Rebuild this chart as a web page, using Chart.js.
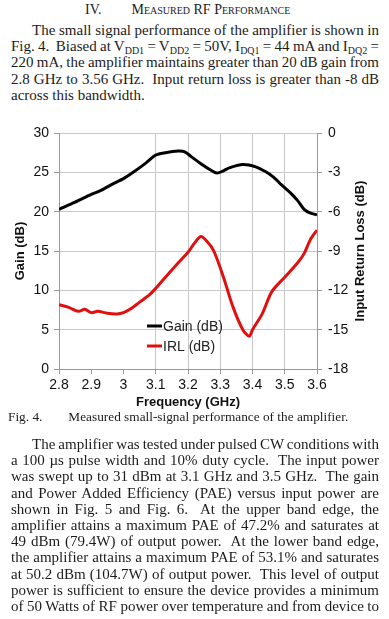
<!DOCTYPE html>
<html>
<head>
<meta charset="utf-8">
<script src="https://cdn.jsdelivr.net/npm/chart.js@4.4.1/dist/chart.umd.min.js"></script>
<style>
body { margin:0; width:389px; height:619px; background:#fff; overflow:hidden;
       font-family:'Liberation Serif','Times New Roman',serif; color:#1c1c1c; }
.blk { position:absolute; left:11px; width:368px; font-size:15px; line-height:16.2px; }
.ln { height:16.2px; white-space:nowrap; }
.ind { padding-left:21px; }
sub { font-size:10px; vertical-align:-3px; line-height:0; }
#title { position:absolute; top:2px; left:85px; font-size:14px; line-height:16px; white-space:nowrap; }
#title span { font-variant:small-caps; margin-left:30px; }
#cap { position:absolute; top:409px; left:8px; font-size:13.3px; line-height:16px; white-space:nowrap; }
#cap span { margin-left:26px; }
#wrap { position:absolute; left:0; top:118px; width:389px; height:296px; }
</style>
</head>
<body>
<div id="title">IV.<span>Measured RF Performance</span></div>
<div class="blk" style="top:22px">
  <div class="ln ind">The small signal performance of the amplifier is shown in</div>
  <div class="ln">Fig. 4.&nbsp; Biased at V<sub>DD1</sub> = V<sub>DD2</sub> = 50V, I<sub>DQ1</sub> = 44 mA and I<sub>DQ2</sub> =</div>
  <div class="ln">220 mA, the amplifier maintains greater than 20 dB gain from</div>
  <div class="ln">2.8 GHz to 3.56 GHz.&nbsp; Input return loss is greater than -8 dB</div>
  <div class="ln last">across this bandwidth.</div>
</div>
<div id="wrap"><canvas id="c" width="389" height="296"></canvas></div>
<div id="cap">Fig. 4.<span>Measured small-signal performance of the amplifier.</span></div>
<div class="blk" style="top:436px">
  <div class="ln ind">The amplifier was tested under pulsed CW conditions with</div>
  <div class="ln">a 100 µs pulse width and 10% duty cycle.&nbsp; The input power</div>
  <div class="ln">was swept up to 31 dBm at 3.1 GHz and 3.5 GHz.&nbsp; The gain</div>
  <div class="ln">and Power Added Efficiency (PAE) versus input power are</div>
  <div class="ln">shown in Fig. 5 and Fig. 6.&nbsp; At the upper band edge, the</div>
  <div class="ln">amplifier attains a maximum PAE of 47.2% and saturates at</div>
  <div class="ln">49 dBm (79.4W) of output power.&nbsp; At the lower band edge,</div>
  <div class="ln">the amplifier attains a maximum PAE of 53.1% and saturates</div>
  <div class="ln">at 50.2 dBm (104.7W) of output power.&nbsp; This level of output</div>
  <div class="ln">power is sufficient to ensure the device provides a minimum</div>
  <div class="ln">of 50 Watts of RF power over temperature and from device to</div>
</div>
<script>
// justify each printed line to the column width by hand
document.querySelectorAll('.ln').forEach(el => {
  if (el.classList.contains('last')) return;
  el.innerHTML = '<span>' + el.innerHTML + '</span>';
  const span = el.firstChild;
  const avail = el.clientWidth - parseFloat(getComputedStyle(el).paddingLeft);
  const gaps = (el.textContent.match(/[ \u00a0]/g) || []).length;
  el.style.wordSpacing = ((avail - span.getBoundingClientRect().width) / gaps) + 'px';
});

// small-signal data
const gainFreq = [2.80, 2.85, 2.90, 2.93, 2.97, 3.00, 3.03, 3.07, 3.10, 3.13, 3.17, 3.19, 3.21, 3.24,
                  3.27, 3.29, 3.31, 3.33, 3.37, 3.41, 3.44, 3.465, 3.49, 3.52, 3.54, 3.56, 3.58, 3.60];
const gainDb = [20.3, 21.2, 22.2, 22.7, 23.6, 24.2, 25.0, 26.2, 27.2, 27.5, 27.7, 27.6, 27.0, 26.1,
                25.3, 24.9, 25.2, 25.6, 26.0, 25.7, 25.1, 24.4, 23.4, 22.3, 21.4, 20.3, 19.8, 19.6];

const irlFreq = [2.80, 2.83, 2.86, 2.88, 2.90, 2.92, 2.95, 2.98, 3.00, 3.02, 3.05, 3.08, 3.10, 3.13,
                 3.17, 3.20, 3.22, 3.24, 3.26, 3.28, 3.31, 3.34, 3.37, 3.39, 3.40, 3.43, 3.46, 3.50,
                 3.54, 3.56, 3.58, 3.60];
const irlDb = [-13.1, -13.3, -13.6, -13.45, -13.7, -13.6, -13.75, -13.8, -13.7, -13.45, -12.9, -12.35, -11.85, -11.0,
               -9.9, -9.1, -8.4, -7.9, -8.3, -9.0, -11.0, -13.3, -15.0, -15.5, -15.0, -13.8, -12.1, -11.0,
               -9.9, -9.2, -8.1, -7.4];

const xTicks = [2.8, 3.6, 0.1];
const gainTicks = [0, 30, 5];
const irlTicks = [-18, 0, 3];

const tickFont = { family: "'Liberation Sans', Arial, sans-serif", size: 14 };
const titleFont = { family: "'Liberation Sans', Arial, sans-serif", size: 13, weight: 'bold' };
const gridGray = '#c8c8c8';
const axisGray = '#999';

function pts(xs, ys) {
  return xs.map((x, i) => ({ x: x, y: ys[i] }));
}

// legend + right axis title (reads bottom-to-top like the left one)
const overlay = {
  id: 'overlay',
  afterDraw(chart) {
    const ctx = chart.ctx;
    ctx.save();
    ctx.font = "14px 'Liberation Sans', Arial, sans-serif";
    ctx.textBaseline = 'middle';
    ctx.textAlign = 'left';
    chart.data.datasets.forEach((ds, i) => {
      const y = 208 + i * 20;
      ctx.strokeStyle = ds.borderColor;
      ctx.lineWidth = 3;
      ctx.beginPath();
      ctx.moveTo(147, y);
      ctx.lineTo(162, y);
      ctx.stroke();
      ctx.fillStyle = '#222';
      ctx.fillText(ds.label, 163, y + 1);
    });
    const a = chart.chartArea;
    ctx.translate(360, (a.top + a.bottom) / 2);
    ctx.rotate(-Math.PI / 2);
    ctx.font = "bold 13px 'Liberation Sans', Arial, sans-serif";
    ctx.textAlign = 'center';
    ctx.fillStyle = '#111';
    ctx.fillText('Input Return Loss (dB)', 0, 0);
    ctx.restore();
  }
};

new Chart(document.getElementById('c'), {
  type: 'line',
  data: {
    datasets: [
      { label: 'Gain (dB)', data: pts(gainFreq, gainDb), yAxisID: 'y',
        borderColor: '#000', borderWidth: 3, pointRadius: 0, tension: 0.3, fill: false },
      { label: 'IRL (dB)', data: pts(irlFreq, irlDb), yAxisID: 'y2',
        borderColor: '#e01010', borderWidth: 3, pointRadius: 0, tension: 0.3, fill: false }
    ]
  },
  options: {
    responsive: false,
    animation: false,
    layout: { padding: { top: 15, left: 0, right: 0, bottom: 0 } },
    plugins: { legend: { display: false }, tooltip: { enabled: false } },
    scales: {
      x: {
        type: 'linear', min: xTicks[0], max: xTicks[1],
        afterFit(s) { s.height = 45; },
        ticks: { stepSize: xTicks[2], font: tickFont, color: '#111', padding: 3,
                 callback: v => String(+v.toFixed(1)) },
        grid: { tickLength: 5, tickColor: axisGray,
                color: c => (c.tick && c.tick.value > 3.05 && c.tick.value < 3.55) ? gridGray : 'rgba(0,0,0,0)' },
        border: { color: axisGray },
        title: { display: true, text: 'Frequency (GHz)', font: titleFont, color: '#111',
                 padding: { top: 0, bottom: 4 } }
      },
      y: {
        position: 'left', min: gainTicks[0], max: gainTicks[1],
        afterFit(s) { s.width = 59; },
        ticks: { stepSize: gainTicks[2], font: tickFont, color: '#111', padding: 5 },
        grid: { tickLength: 5, tickColor: axisGray,
                color: c => (c.tick && c.tick.value > 0) ? gridGray : 'rgba(0,0,0,0)' },
        border: { color: axisGray },
        title: { display: true, text: 'Gain (dB)', font: titleFont, color: '#111',
                 padding: { top: 13, bottom: 0 } }
      },
      y2: {
        position: 'right', min: irlTicks[0], max: irlTicks[1],
        afterFit(s) { s.width = 72; },
        ticks: { stepSize: irlTicks[2], font: tickFont, color: '#111', padding: 6 },
        grid: { drawOnChartArea: false, tickLength: 5, tickColor: axisGray },
        border: { color: axisGray }
      }
    }
  },
  plugins: [overlay]
});
</script>
</body>
</html>
